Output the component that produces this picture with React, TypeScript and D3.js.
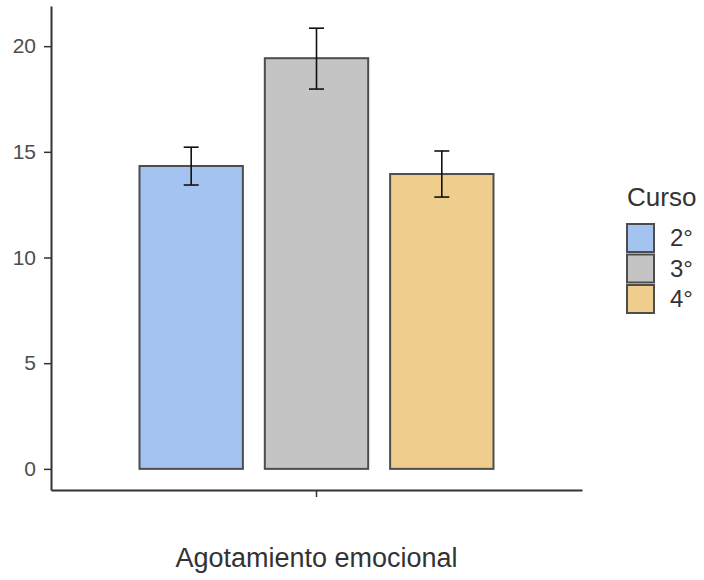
import React, { useEffect, useRef } from "react";
import * as d3 from "d3";

// datos
const categories = ["Agotamiento emocional"];
const cursos = ["2°", "3°", "4°"];
const means = [14.33, 19.43, 13.95];
const lower = [13.43, 17.97, 12.86];
const upper = [15.22, 20.85, 15.04];
const yTicks = [0, 5, 10, 15, 20];
const colors = ["#a4c3f0", "#c4c4c4", "#efcd8c"];

export default function App() {
  const ref = useRef<SVGSVGElement>(null);

  useEffect(() => {
    const svg = d3.select(ref.current);
    svg.selectAll("*").remove();
    const font = "'Liberation Sans', Arial, sans-serif";

    const left = 51, right = 582, top = 6, bottom = 490;

    const y = d3.scaleLinear().domain([-1, 21.9]).range([bottom, top]);
    const x0 = d3.scaleBand().domain(categories).range([left, right]).paddingInner(0).paddingOuter(0.25);
    const x1 = d3.scaleBand().domain(cursos).range([0, x0.bandwidth()]).paddingInner(0.175).paddingOuter(0);
    const color = d3.scaleOrdinal<string, string>().domain(cursos).range(colors);

    // eje y
    const gy = svg.append("g")
      .attr("transform", `translate(${left},0)`)
      .call(d3.axisLeft(y).tickValues(yTicks).tickSize(7).tickSizeOuter(0).tickPadding(8));
    gy.select(".domain").attr("stroke", "#333").attr("stroke-width", 2);
    gy.selectAll(".tick line").attr("stroke", "#333").attr("stroke-width", 1.5);
    gy.selectAll(".tick text").attr("fill", "#4d4d4d").style("font-size", "21px").style("font-family", font);

    // eje x
    const gx = svg.append("g")
      .attr("transform", `translate(0,${bottom})`)
      .call(d3.axisBottom(x0).tickSize(7).tickSizeOuter(0).tickFormat(() => ""));
    gx.select(".domain").attr("stroke", "#333").attr("stroke-width", 2);
    gx.selectAll(".tick line").attr("stroke", "#333").attr("stroke-width", 1.5);

    // barras
    const rows = cursos.map((c, i) => ({ curso: c, mean: means[i], lo: lower[i], hi: upper[i], cat: categories[0] }));
    const g = svg.append("g");
    g.selectAll("rect")
      .data(rows)
      .enter()
      .append("rect")
      .attr("x", d => (x0(d.cat) as number) + (x1(d.curso) as number))
      .attr("y", d => y(d.mean))
      .attr("width", x1.bandwidth())
      .attr("height", d => y(0) - y(d.mean))
      .attr("fill", d => color(d.curso))
      .attr("stroke", "#4d4d4d")
      .attr("stroke-width", 2);

    // barras de error
    const cap = 7.5;
    const eb = g.selectAll("g.eb").data(rows).enter().append("g").attr("class", "eb")
      .attr("transform", d => `translate(${(x0(d.cat) as number) + (x1(d.curso) as number) + x1.bandwidth() / 2},0)`);
    eb.append("line").attr("x1", 0).attr("x2", 0).attr("y1", d => y(d.lo)).attr("y2", d => y(d.hi))
      .attr("stroke", "#111").attr("stroke-width", 1.6);
    eb.append("line").attr("x1", -cap).attr("x2", cap).attr("y1", d => y(d.hi)).attr("y2", d => y(d.hi))
      .attr("stroke", "#111").attr("stroke-width", 1.6);
    eb.append("line").attr("x1", -cap).attr("x2", cap).attr("y1", d => y(d.lo)).attr("y2", d => y(d.lo))
      .attr("stroke", "#111").attr("stroke-width", 1.6);

    // titulo eje x
    svg.append("text")
      .attr("x", (x0(categories[0]) as number) + x0.bandwidth() / 2)
      .attr("y", 567)
      .attr("text-anchor", "middle")
      .attr("fill", "#333")
      .style("font-size", "27px")
      .style("font-family", font)
      .text(categories[0]);

    // leyenda
    const lg = svg.append("g").attr("transform", "translate(627,0)");
    lg.append("text").attr("x", 0).attr("y", 206).attr("fill", "#333")
      .style("font-size", "26px").style("font-family", font).text("Curso");
    const items = lg.selectAll("g.item").data(cursos).enter().append("g").attr("class", "item")
      .attr("transform", (d, i) => `translate(0,${224 + i * 30.5})`);
    items.append("rect").attr("width", 27).attr("height", 28)
      .attr("fill", d => color(d)).attr("stroke", "#4d4d4d").attr("stroke-width", 2);
    items.append("text").attr("x", 43).attr("y", 22).attr("fill", "#333")
      .style("font-size", "24px").style("font-family", font).text(d => d);
  }, []);

  return (
    <svg ref={ref} width={704} height={580}
      style={{ position: "absolute", left: 0, top: 0, background: "#fff" }} />
  );
}
